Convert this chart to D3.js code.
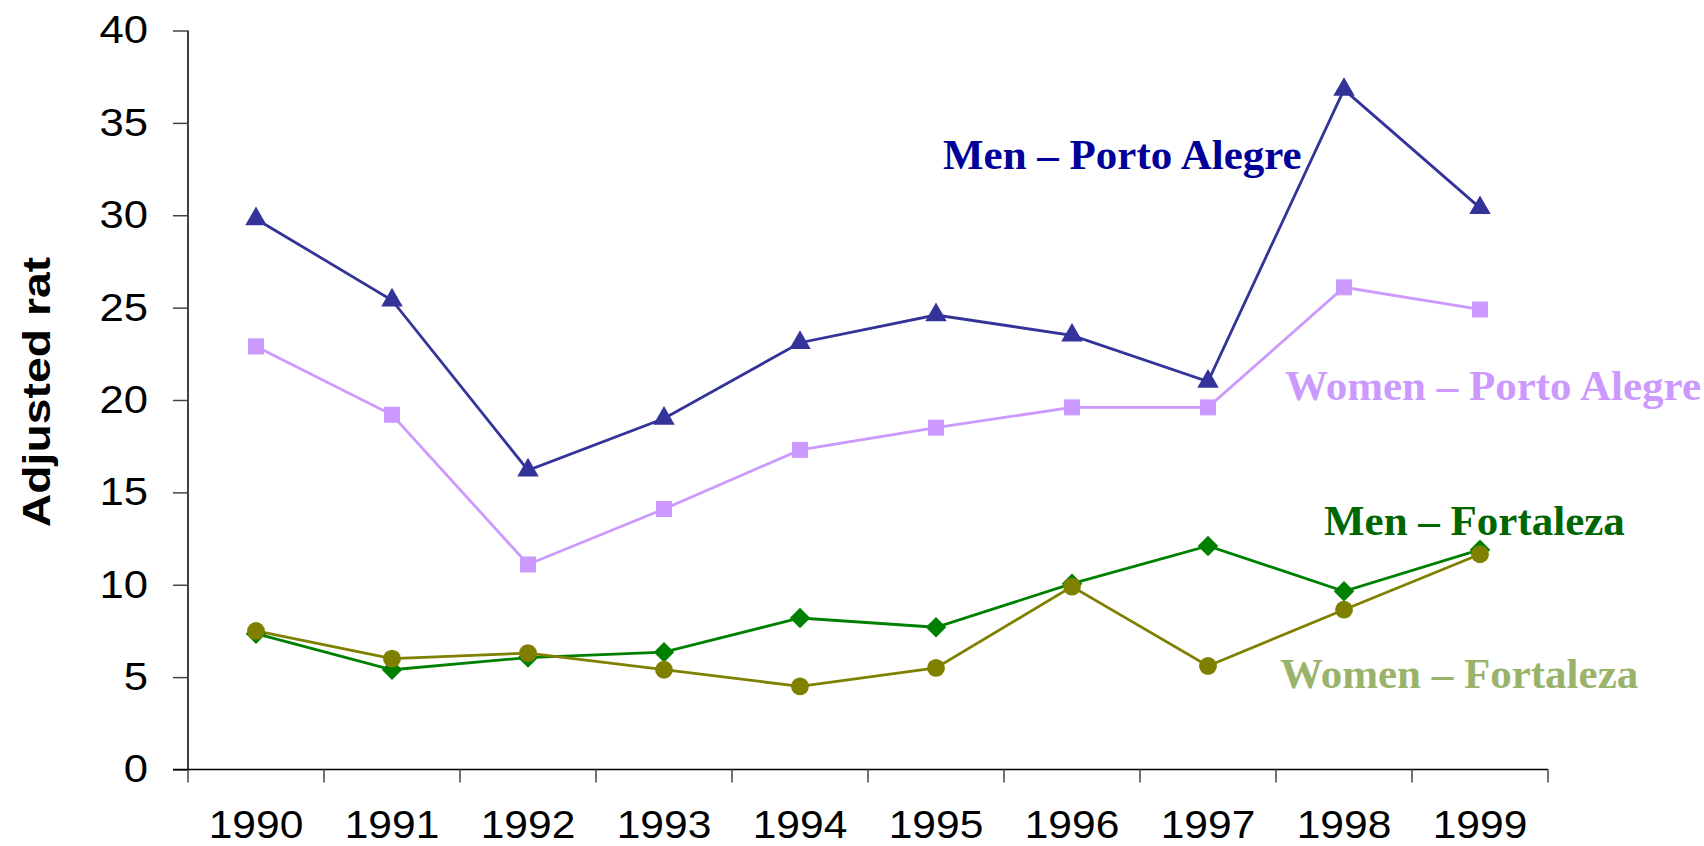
<!DOCTYPE html>
<html>
<head>
<meta charset="utf-8">
<script src="https://cdn.jsdelivr.net/npm/d3@7"></script>
<style>
  body { margin: 0; background: #fff; }
  .stretch { transform-box: fill-box; transform: scaleX(1.12); }
</style>
</head>
<body>
<div id="chart"></div>
<script>
const years = ["1990", "1991", "1992", "1993", "1994", "1995", "1996", "1997", "1998", "1999"];
const yTicks = [0, 5, 10, 15, 20, 25, 30, 35, 40];

const menPortoAlegre = [29.8, 25.4, 16.2, 19.0, 23.1, 24.6, 23.5, 21.0, 36.8, 30.4];
const womenPortoAlegre = [22.9, 19.2, 11.1, 14.1, 17.3, 18.5, 19.6, 19.6, 26.1, 24.9];
const menFortaleza = [7.35, 5.4, 6.06, 6.35, 8.2, 7.7, 10.06, 12.1, 9.65, 11.9];
const womenFortaleza = [7.5, 6.0, 6.3, 5.4, 4.5, 5.5, 9.9, 5.6, 8.65, 11.65];

const seriesNames = ["Men – Porto Alegre", "Women – Porto Alegre", "Men – Fortaleza", "Women – Fortaleza"];

const width = 1704;
const height = 846;
const margin = { top: 30.5, right: 156, bottom: 76.5, left: 188 };

// rotated square for the Excel-style diamond
const diamond = {
    draw(context, size) {
        const r = Math.sqrt(size) / Math.SQRT2;
        context.moveTo(0, -r);
        context.lineTo(r, 0);
        context.lineTo(0, r);
        context.lineTo(-r, 0);
        context.closePath();
    }
};

const series = [
    { name: seriesNames[0], values: menPortoAlegre, color: "#333399", labelColor: "#000099", symbol: d3.symbolTriangle, size: 200, lx: 943, ly: 169 },
    { name: seriesNames[1], values: womenPortoAlegre, color: "#cc99ff", labelColor: "#cc99ff", symbol: d3.symbolSquare, size: 256, lx: 1285, ly: 400 },
    { name: seriesNames[2], values: menFortaleza, color: "#008000", labelColor: "#006600", symbol: diamond, size: 210, lx: 1324, ly: 535 },
    { name: seriesNames[3], values: womenFortaleza, color: "#808000", labelColor: "#99b36b", symbol: d3.symbolCircle, size: 250, lx: 1280, ly: 688 }
];

const svg = d3.select("#chart")
    .append("svg")
    .attr("width", width)
    .attr("height", height)
    .style("font-family", "Arial, 'Liberation Sans', sans-serif");

const x = d3.scaleBand()
    .domain(years)
    .range([margin.left, width - margin.right]);

const y = d3.scaleLinear()
    .domain([0, 40])
    .range([height - margin.bottom, margin.top]);

// y axis
const yAxis = svg.append("g")
    .attr("transform", `translate(${margin.left},0)`)
    .call(d3.axisLeft(y).tickValues(yTicks).tickSize(15).tickPadding(25));
yAxis.select(".domain").attr("stroke", "#000").attr("stroke-width", 1.5)
    .attr("d", `M0,${y(40)}V${y(0)}`);
yAxis.selectAll(".tick line").attr("stroke", "#444").attr("stroke-width", 1.5);
yAxis.selectAll("text")
    .attr("class", "stretch")
    .style("transform-origin", "right center")
    .style("font-size", "39px")
    .attr("fill", "#000");

// x axis: labels centred in bands, ticks on band edges
const xAxis = svg.append("g")
    .attr("transform", `translate(0,${y(0)})`)
    .call(d3.axisBottom(x).tickSize(0));
xAxis.select(".domain").remove();
xAxis.selectAll("text")
    .attr("y", 69)
    .attr("dy", 0)
    .attr("class", "stretch")
    .style("transform-origin", "center")
    .style("font-size", "38px")
    .attr("fill", "#000");
xAxis.append("line")
    .attr("x1", margin.left - 15)
    .attr("x2", width - margin.right)
    .attr("stroke", "#000")
    .attr("stroke-width", 1.5);
xAxis.selectAll(".edge")
    .data(years.concat(["end"]))
    .enter()
    .append("line")
    .attr("x1", (d, i) => margin.left + i * x.step())
    .attr("x2", (d, i) => margin.left + i * x.step())
    .attr("y1", 0)
    .attr("y2", 13)
    .attr("stroke", "#444")
    .attr("stroke-width", 1.5);

svg.append("text")
    .attr("transform", `translate(37,392) rotate(-90) scale(1.22,1)`)
    .attr("text-anchor", "middle")
    .attr("dominant-baseline", "central")
    .style("font-size", "38px")
    .style("font-weight", "bold")
    .text("Adjusted rat");

const line = d3.line()
    .x((d, i) => x(years[i]) + x.bandwidth() / 2)
    .y((d) => y(d));

series.forEach((s) => {
    svg.append("path")
        .datum(s.values)
        .attr("fill", "none")
        .attr("stroke", s.color)
        .attr("stroke-width", 2.8)
        .attr("d", line);
});

series.forEach((s) => {
    svg.append("g")
        .selectAll("path")
        .data(s.values)
        .enter()
        .append("path")
        .attr("transform", (d, i) => `translate(${x(years[i]) + x.bandwidth() / 2},${y(d)})`)
        .attr("d", d3.symbol().type(s.symbol).size(s.size))
        .attr("fill", s.color);
});

series.forEach((s) => {
    svg.append("text")
        .attr("x", s.lx)
        .attr("y", s.ly)
        .style("font-family", "'Times New Roman', 'Liberation Serif', serif")
        .style("font-weight", "bold")
        .style("font-size", "43px")
        .attr("fill", s.labelColor)
        .text(s.name);
});
</script>
</body>
</html>
